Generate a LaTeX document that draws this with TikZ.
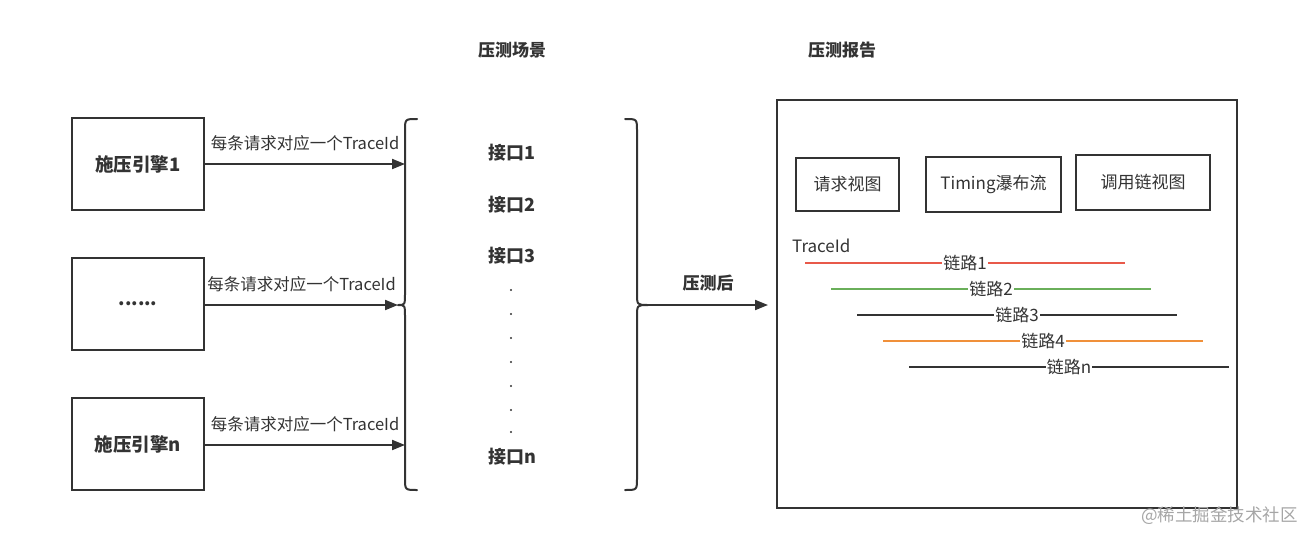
\documentclass[tikz,border=0pt]{standalone}
\usepackage{fontspec}
\setmainfont{Noto Sans CJK SC}
\usetikzlibrary{arrows.meta}
\definecolor{ink}{HTML}{333333}
\definecolor{lred}{HTML}{E8594A}
\definecolor{lgreen}{HTML}{6AAF5A}
\definecolor{lorange}{HTML}{F0903A}
\tikzset{
  box/.style={draw=ink, line width=2pt, minimum width=132pt, minimum height=92pt, inner sep=0pt, font=\fontsize{18.5}{20}\selectfont\bfseries, text=ink},
  vbox/.style={draw=ink, line width=2pt, inner sep=0pt, font=\fontsize{17}{19}\selectfont, text=ink},
  conn/.style={draw=ink, line width=2pt, -{Triangle[length=13pt,width=10pt]}},
  lbl/.style={font=\fontsize{16.5}{18}\selectfont, text=ink, inner sep=0pt},
  iface/.style={font=\fontsize{18}{20}\selectfont\bfseries, text=ink, inner sep=0pt},
  ttl/.style={font=\fontsize{17}{19}\selectfont\bfseries, text=ink, inner sep=0pt},
  trace/.style={line width=2pt},
  tlbl/.style={font=\fontsize{17}{19}\selectfont, text=ink, fill=white, inner sep=1pt},
  brace/.style={draw=ink, line width=2pt, line cap=round, line join=round},
  dot/.style={circle, fill=ink, inner sep=0pt, minimum size=2.2pt}
}
\begin{document}
\begin{tikzpicture}[x=1pt,y=-1pt]
\useasboundingbox (0,0) rectangle (1316,541);
% titles
\node[ttl] (t1) at (512,50) {压测场景};
\node[ttl] (t2) at (842,50) {压测报告};
% engines
\node[box] (e1) at (138,164) {施压引擎1};
\node[box] (e2) at (138,304) {......};
\node[box] (e3) at (138,444) {施压引擎n};
% left brace
\coordinate (b1) at (405,164);
\coordinate (b2) at (398,305);
\coordinate (b3) at (405,445);
\draw[brace] (417,119) .. controls (405,119) .. (405,131) -- (405,293)
  .. controls (405,305) .. (398,305) .. controls (405,305) .. (405,317)
  -- (405,478) .. controls (405,490) .. (417,490);
\draw[conn] (e1.east) -- (b1) node[lbl, midway, above=12pt] (l1) {每条请求对应一个TraceId};
\draw[conn] (e2.east |- b2) -- (b2) node[lbl, midway, above=12pt] (l2) {每条请求对应一个TraceId};
\draw[conn] (e3.east |- b3) -- (b3) node[lbl, midway, above=12pt] (l3) {每条请求对应一个TraceId};
% interfaces
\node[iface] (i1) at (512,153) {接口1};
\node[iface] (i2) at (512,205) {接口2};
\node[iface] (i3) at (512,256) {接口3};
\foreach \yy [count=\k] in {290,314,338,362,386,410,432}
  \node[dot] (d\k) at (511,\yy) {};
\node[iface] (in) at (512,457) {接口n};
% right brace
\coordinate (rb) at (648,305);
\draw[brace] (625,119) .. controls (637,119) .. (637,131) -- (637,293)
  .. controls (637,305) .. (648,305) .. controls (637,305) .. (637,317)
  -- (637,478) .. controls (637,490) .. (625,490);
% report box
\node[draw=ink, line width=2pt, minimum width=460pt, minimum height=408pt, inner sep=0pt] (rep) at (1007,304) {};
\coordinate (ra) at (768,305);
\draw[conn] (rb) -- (ra) node[lbl, midway, above=13pt, font=\fontsize{17}{19}\selectfont\bfseries] (after) {压测后};
% view boxes
\node[vbox, minimum width=103pt, minimum height=53pt] (v1) at (847.5,184.5) {请求视图};
\node[vbox, minimum width=135pt, minimum height=55pt] (v2) at (993.5,184.5) {Timing瀑布流};
\node[vbox, minimum width=134pt, minimum height=55pt] (v3) at (1143,182.5) {调用链视图};
% traces
\node[font=\fontsize{17}{19}\selectfont, text=ink, inner sep=0pt, anchor=west] (tid) at (792,246) {TraceId};
\coordinate (r1a) at (805,263); \coordinate (r1b) at (1125,263);
\coordinate (r2a) at (831,289); \coordinate (r2b) at (1151,289);
\coordinate (r3a) at (857,315); \coordinate (r3b) at (1177,315);
\coordinate (r4a) at (883,341); \coordinate (r4b) at (1203,341);
\coordinate (r5a) at (909,367); \coordinate (r5b) at (1229,367);
\draw[trace, draw=lred] (r1a) -- (r1b) node[tlbl, midway] (c1) {链路1};
\draw[trace, draw=lgreen] (r2a) -- (r2b) node[tlbl, midway] (c2) {链路2};
\draw[trace, draw=ink] (r3a) -- (r3b) node[tlbl, midway] (c3) {链路3};
\draw[trace, draw=lorange] (r4a) -- (r4b) node[tlbl, midway] (c4) {链路4};
\draw[trace, draw=ink] (r5a) -- (r5b) node[tlbl, midway] (c5) {链路n};
% watermark
\node[font=\fontsize{17.5}{19}\selectfont, text=black!35, anchor=east, inner sep=0pt] (wm) at (1298,516) {@稀土掘金技术社区};
\end{tikzpicture}
\end{document}
